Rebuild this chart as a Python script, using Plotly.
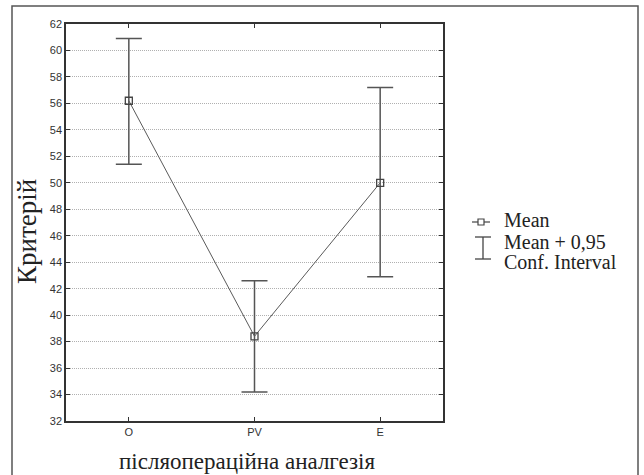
import plotly.graph_objects as go

categories = ["O", "PV", "E"]
means = [56.2, 38.4, 50.0]
upper = [60.9, 42.6, 57.2]
lower = [51.4, 34.2, 42.9]
y_ticks = list(range(32, 63, 2))

xpos = list(range(len(categories)))
err_plus = [u - m for u, m in zip(upper, means)]
err_minus = [m - l for m, l in zip(means, lower)]

LC = "#555555"
fig = go.Figure()
fig.add_trace(go.Scatter(
    x=xpos, y=means, mode="lines+markers",
    line=dict(color="#5a5a5a", width=1),
    marker=dict(symbol="square-open", size=7, color="#444444", line=dict(width=1.3)),
    error_y=dict(type="data", symmetric=False, array=err_plus, arrayminus=err_minus,
                 color=LC, thickness=1.5, width=13),
    showlegend=False,
))

L, R, T, B = 66, 443, 24, 421
W, H = R - L, B - T
def px(x):
    return (x - L) / W
def py(y):
    return (B - y) / H

shapes = [
    dict(type="rect", xref="paper", yref="paper", x0=px(12), x1=px(638), y0=py(490), y1=py(6),
         line=dict(color="#555555", width=1.5), layer="below"),
    # legend: mean symbol
    dict(type="line", xref="paper", yref="paper", x0=px(472), x1=px(490), y0=py(222), y1=py(222),
         line=dict(color="#444", width=1.2)),
    dict(type="rect", xref="paper", yref="paper", x0=px(478), x1=px(484), y0=py(225), y1=py(219),
         line=dict(color="#444", width=1.2), fillcolor="white"),
    # legend: error bar symbol
    dict(type="line", xref="paper", yref="paper", x0=px(483), x1=px(483), y0=py(237), y1=py(259),
         line=dict(color="#444", width=1.3)),
    dict(type="line", xref="paper", yref="paper", x0=px(475), x1=px(491), y0=py(237), y1=py(237),
         line=dict(color="#444", width=1.3)),
    dict(type="line", xref="paper", yref="paper", x0=px(475), x1=px(491), y0=py(259), y1=py(259),
         line=dict(color="#444", width=1.3)),
]

serif = "Liberation Serif, Times New Roman, serif"
legend_lines = [("Mean", 220), ("Mean + 0,95", 242), ("Conf. Interval", 262)]
annotations = [
    dict(xref="paper", yref="paper", x=px(502), y=py(yy), xanchor="left", yanchor="middle",
         text=t, showarrow=False, font=dict(family=serif, size=20, color="#222"))
    for t, yy in legend_lines
]
annotations += [
    dict(xref="paper", yref="paper", x=px(247), y=py(461), xanchor="center", yanchor="middle",
         text="післяопераційна аналгезія", showarrow=False,
         font=dict(family=serif, size=23, color="#222")),
    dict(xref="paper", yref="paper", x=px(27), y=py(232), xanchor="center", yanchor="middle",
         text="Критерій", textangle=-90, showarrow=False,
         font=dict(family=serif, size=27, color="#222")),
]

fig.update_layout(
    width=644, height=475,
    margin=dict(l=L, r=644 - R, t=T, b=475 - B, pad=0),
    paper_bgcolor="white", plot_bgcolor="white",
    shapes=shapes, annotations=annotations,
    showlegend=False,
    font=dict(family="Liberation Sans, Arial, sans-serif", color="#333"),
)
fig.update_xaxes(
    range=[-0.5, 2.5], tickvals=xpos, ticktext=categories,
    ticks="inside", ticklen=4, tickcolor="#333", tickwidth=1.2,
    showline=True, linecolor="#333", linewidth=1.5, mirror="ticks",
    showgrid=False, zeroline=False,
    tickfont=dict(size=11, color="#333"),
)
fig.update_yaxes(
    range=[32, 62], tickvals=y_ticks,
    ticks="inside", ticklen=4, tickcolor="#333", tickwidth=1.2,
    showline=True, linecolor="#333", linewidth=1.5, mirror="ticks",
    showgrid=True, gridcolor="#b0b0b0", griddash="1px,1px", gridwidth=1,
    zeroline=False,
    tickfont=dict(size=11, color="#333"),
)
fig.write_html(
    "out.html",
    config={"displayModeBar": False},
    post_script="document.body.style.margin='0';document.body.style.overflow='hidden';",
)
